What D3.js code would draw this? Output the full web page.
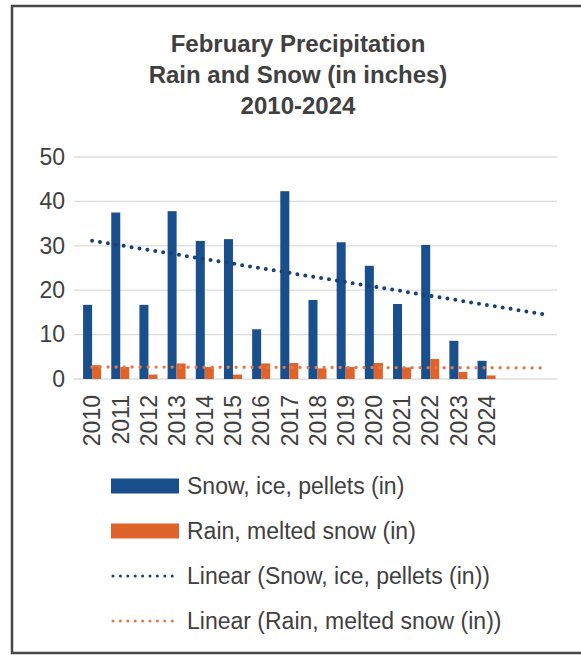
<!DOCTYPE html>
<html>
<head>
<meta charset="utf-8">
<script src="https://cdn.jsdelivr.net/npm/d3@7"></script>
<style>
  html, body { margin: 0; padding: 0; background: #ffffff; }
  svg { display: block; }
  text { font-family: "Liberation Sans", Arial, sans-serif; fill: #404040; }
</style>
</head>
<body>
<svg id="chart" width="581" height="656"></svg>
<script>
// February precipitation, 2010-2024 (inches)
const years = ["2010","2011","2012","2013","2014","2015","2016","2017","2018","2019","2020","2021","2022","2023","2024"];
const snow  = [16.7, 37.5, 16.7, 37.8, 31.1, 31.5, 11.2, 42.3, 17.8, 30.8, 25.5, 16.9, 30.2, 8.6, 4.1];
const rain  = [3.1, 2.7, 1.0, 3.5, 2.7, 1.0, 3.5, 3.6, 2.4, 2.7, 3.6, 2.6, 4.5, 1.6, 0.8];
const yTicks = [0, 10, 20, 30, 40, 50];
const titleLines = ["February Precipitation", "Rain and Snow (in inches)", "2010-2024"];
const seriesNames = ["Snow, ice, pellets (in)", "Rain, melted snow (in)"];
const trendNames = ["Linear (Snow, ice, pellets (in))", "Linear (Rain, melted snow (in))"];
const forecastPeriods = 2;

const colors = { snow: "#1a4f8e", rain: "#e1632c", snowTrend: "#1c3f75", rainTrend: "#e3794a" };

const svg = d3.select("#chart");

// frame
svg.append("rect")
  .attr("x", 12).attr("y", 6).attr("width", 590).attr("height", 647)
  .attr("fill", "none").attr("stroke", "#474747").attr("stroke-width", 2.5);

// title
svg.append("g").selectAll("text").data(titleLines).join("text")
  .attr("x", 298).attr("y", (d, i) => 52 + i * 31)
  .attr("text-anchor", "middle")
  .style("font-weight", "bold").style("font-size", "24px")
  .text(d => d);

const plot = { left: 78, right: 557, top: 157, bottom: 379 };
const slots = d3.range(years.length + forecastPeriods);

const x = d3.scaleBand().domain(slots).range([plot.left, plot.right]).paddingInner(0.36).paddingOuter(0.18);
const x1 = d3.scaleBand().domain(["snow", "rain"]).range([0, x.bandwidth()]);
const y = d3.scaleLinear().domain([0, 50]).range([plot.bottom, plot.top]);

// gridlines
svg.append("g").selectAll("line").data(yTicks).join("line")
  .attr("x1", plot.left - 4).attr("x2", plot.right)
  .attr("y1", d => y(d)).attr("y2", d => y(d))
  .attr("stroke", "#dcdcdc").attr("stroke-width", 1.3);

// y axis labels
const yAxis = d3.axisLeft(y).tickValues(yTicks).tickSize(0).tickPadding(0);
svg.append("g").attr("transform", `translate(${plot.left - 13},0)`).call(yAxis)
  .call(g => g.select(".domain").remove())
  .selectAll("text").style("font-size", "23px").attr("fill", "#404040").style("font-family", null);

// x axis labels (rotated)
const xAxis = d3.axisBottom(x).tickValues(d3.range(years.length)).tickFormat(i => years[i]).tickSize(0).tickPadding(0);
svg.append("g").attr("transform", `translate(0,${plot.bottom})`).call(xAxis)
  .call(g => g.select(".domain").remove())
  .selectAll("text")
  .style("font-size", "23px").attr("fill", "#404040").style("font-family", null)
  .attr("transform", "rotate(-90)")
  .attr("text-anchor", "end")
  .attr("x", -16).attr("y", 0).attr("dy", "0.36em");

// bars
const rows = years.map((yr, i) => ({ i, snow: snow[i], rain: rain[i] }));
const groups = svg.append("g").selectAll("g").data(rows).join("g")
  .attr("transform", d => `translate(${x(d.i)},0)`);
groups.selectAll("rect").data(d => [["snow", d.snow], ["rain", d.rain]]).join("rect")
  .attr("x", d => x1(d[0])).attr("width", x1.bandwidth())
  .attr("y", d => y(d[1])).attr("height", d => y(0) - y(d[1]))
  .attr("fill", d => colors[d[0]]);

// least-squares trend, projected forward
function trend(vals) {
  const n = vals.length, mx = (n - 1) / 2, my = d3.mean(vals);
  let sxy = 0, sxx = 0;
  vals.forEach((v, i) => { sxy += (i - mx) * (v - my); sxx += (i - mx) * (i - mx); });
  const b = sxy / sxx, a = my - b * mx;
  const last = n - 1 + forecastPeriods;
  return [[0, a], [last, a + b * last]];
}
const cx = i => x(i) + x.bandwidth() / 2;
const line = d3.line().x(d => cx(d[0])).y(d => y(d[1]));

svg.append("path").datum(trend(rain)).attr("d", line)
  .attr("fill", "none").attr("stroke", colors.rainTrend).attr("stroke-width", 3.4)
  .attr("stroke-linecap", "round").attr("stroke-dasharray", "0 8");
svg.append("path").datum(trend(snow)).attr("d", line)
  .attr("fill", "none").attr("stroke", colors.snowTrend).attr("stroke-width", 4)
  .attr("stroke-linecap", "round").attr("stroke-dasharray", "0 8");

// legend
const legendItems = [
  { name: seriesNames[0], type: "bar", color: colors.snow },
  { name: seriesNames[1], type: "bar", color: colors.rain },
  { name: trendNames[0], type: "dot", color: colors.snowTrend },
  { name: trendNames[1], type: "dot", color: colors.rainTrend }
];
const legend = svg.append("g").selectAll("g").data(legendItems).join("g")
  .attr("transform", (d, i) => `translate(111,${486 + i * 45})`);
legend.filter(d => d.type === "bar").append("rect")
  .attr("x", 0).attr("y", -7.5).attr("width", 68).attr("height", 15)
  .attr("fill", d => d.color);
legend.filter(d => d.type === "dot").append("line")
  .attr("x1", 2).attr("x2", 68).attr("y1", 0).attr("y2", 0)
  .attr("stroke", d => d.color).attr("stroke-width", 3)
  .attr("stroke-linecap", "round").attr("stroke-dasharray", "0 7.4");
legend.append("text")
  .attr("x", 76).attr("y", 0).attr("dy", "0.36em")
  .style("font-size", "23px")
  .text(d => d.name);
</script>
</body>
</html>
